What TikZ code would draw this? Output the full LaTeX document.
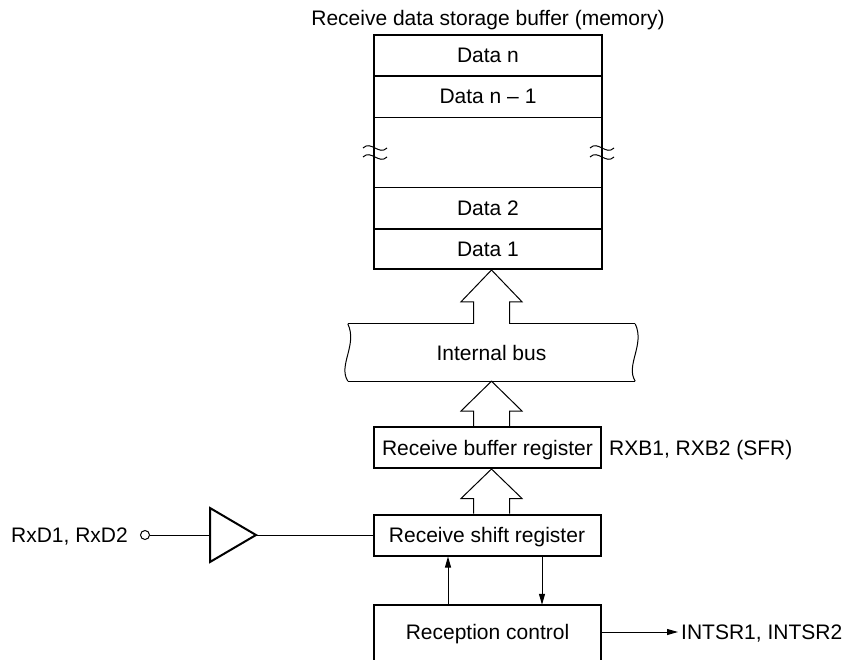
\documentclass[tikz,border=0pt]{standalone}
\usepackage{fontspec}
\setmainfont{Liberation Sans}
\usetikzlibrary{arrows.meta}
\newcommand\blkarrow[3]{%
  \draw[thinln] ([xshift=-18pt]#1) -- ([xshift=-18pt,yshift=#3]#1) -- ([xshift=-30.5pt,yshift=#3]#1)
    -- (#2) -- ([xshift=30.5pt,yshift=#3]#1) -- ([xshift=18pt,yshift=#3]#1) -- ([xshift=18pt]#1);}
\begin{document}
\begin{tikzpicture}[x=1pt,y=-1pt,
  font=\fontsize{21}{25}\selectfont,
  txt/.style={inner sep=0pt,text height=15pt,text depth=0pt},
  box/.style={txt,draw,line width=2pt,minimum width=227pt,minimum height=41pt},
  row/.style={txt,minimum width=228pt,minimum height=41pt},
  thinln/.style={line width=1pt},
  thickln/.style={line width=2pt},
  sig/.style={line width=1pt,-{Triangle[length=11pt,width=6pt]}}]
\useasboundingbox (0,0) rectangle (846,660);
\clip (0,0) rectangle (846,660);

% memory
\node[txt] (title) at (488,18) {Receive data storage buffer (memory)};
\node[draw,line width=2pt,minimum width=228pt,minimum height=234pt,inner sep=0pt] (mem) at (488,152) {};
\node[row] (dn) at (488,55.5) {Data n};
\node[row] (dn1) at (488,96.5) {Data n -- 1};
\node[row] (d2) at (488,208.5) {Data 2};
\node[row,minimum height=40pt] (d1) at (488,249) {Data 1};
\draw[thickln] (dn.south west) -- (dn.south east);
\draw[thinln] (dn1.south west) -- (dn1.south east);
\draw[thinln] (d2.north west) -- (d2.north east);
\draw[thickln] (d2.south west) -- (d2.south east);
% break marks
\foreach \yy in {148,157}{
  \draw[thinln] (363,\yy) .. controls (371,\yy-8) and (379,\yy+8) .. (387,\yy);
  \draw[thinln] (590,\yy) .. controls (598,\yy-8) and (606,\yy+8) .. (614,\yy);
}

% internal bus
\node[txt,minimum width=287pt,minimum height=57pt] (bus) at (491.5,352.5) {Internal bus};
\draw[thinln] (bus.north west) -- ([xshift=-18pt]bus.north);
\draw[thinln] ([xshift=18pt]bus.north) -- (bus.north east);
\draw[thinln] (bus.south west) -- (bus.south east);
\draw[thinln] (bus.north west) .. controls +(10,21) and +(-10,-16) .. (bus.south west);
\draw[thinln] (bus.north east) .. controls +(10,21) and +(-10,-16) .. (bus.south east);

% registers
\node[box] (rxb) at (487.5,447.5) {Receive buffer register};
\node[txt,anchor=west] (rxbl) at (609,447.5) {RXB1, RXB2 (SFR)};
\node[box] (rsr) at (487,535) {Receive shift register};

\coordinate (a2) at (bus.south |- rxb.north);
\coordinate (a2t) at (bus.south);
\coordinate (a3) at (bus.south |- rsr.north);
\coordinate (a3t) at (bus.south |- rxb.south);
\coordinate (mt) at (mem.south -| bus.north);
\blkarrow{bus.north}{mt}{22pt}
\blkarrow{a2}{a2t}{15pt}
\blkarrow{a3}{a3t}{15pt}

% reception control
\node[txt,minimum width=227pt,minimum height=54pt] (rc) at (487.5,632) {Reception control};
\draw[thickln] ([yshift=-20pt]rc.south west) -- (rc.north west) -- (rc.north east) -- ([yshift=-20pt]rc.south east);
\coordinate (upx) at (448,0);
\coordinate (dnx) at (542,0);
\draw[sig] (upx |- rc.north) -- (upx |- rsr.south);
\draw[sig] (dnx |- rsr.south) -- (dnx |- rc.north);
\node[txt,anchor=west,inner xsep=3pt] (intsr) at (678,632) {INTSR1, INTSR2};
\draw[sig] (rc.east) -- (intsr.west);

% input
\node[txt,anchor=east] (rxd) at (128,535) {RxD1, RxD2};
\node[circle,draw,line width=1pt,minimum size=9pt,inner sep=0pt] (pin) at (145,535) {};
\coordinate (bufin) at (210,535);
\coordinate (bufout) at (256,535);
\draw[thickln] (210,508) -- (210,562) -- (bufout) -- cycle;
\draw[thinln] (pin) -- (bufin);
\draw[thinln] (bufout) -- (rsr.west);
\end{tikzpicture}
\end{document}
